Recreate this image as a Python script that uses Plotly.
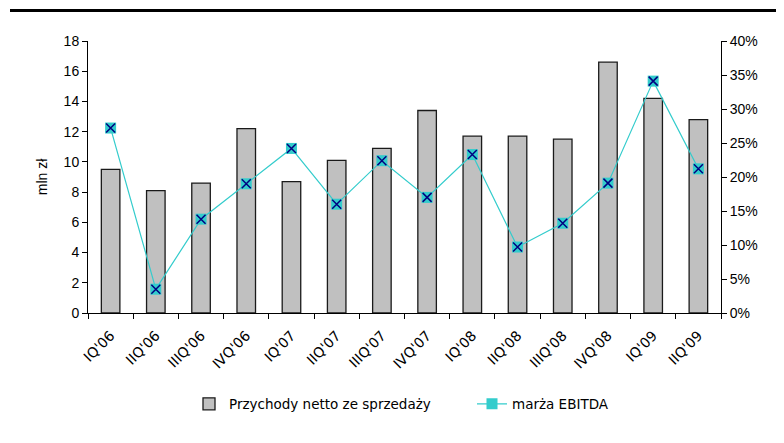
import plotly.graph_objects as go

categories = ["IQ'06", "IIQ'06", "IIIQ'06", "IVQ'06", "IQ'07", "IIQ'07", "IIIQ'07",
              "IVQ'07", "IQ'08", "IIQ'08", "IIIQ'08", "IVQ'08", "IQ'09", "IIQ'09"]
revenue = [9.5, 8.1, 8.6, 12.2, 8.7, 10.1, 10.9, 13.4, 11.7, 11.7, 11.5, 16.6, 14.2, 12.8]
ebitda_margin = [0.272, 0.035, 0.138, 0.190, 0.242, 0.160, 0.224, 0.170, 0.233,
                 0.097, 0.132, 0.191, 0.341, 0.212]
left_ticks = [0, 2, 4, 6, 8, 10, 12, 14, 16, 18]
right_ticks = [0, 0.05, 0.10, 0.15, 0.20, 0.25, 0.30, 0.35, 0.40]

# page body has an 8px default margin; the figure is sized to fit the window
OFF = 8
W, H = 784 - OFF, 443 - OFF
ML, MR, MT, MB = 88 - OFF, 63, 41 - OFF, 130
PW, PH = W - ML - MR, H - MT - MB

tick_font = dict(family="Liberation Sans, Arial, sans-serif", size=14, color="black")
cat_font = dict(family="DejaVu Sans, sans-serif", size=14, color="black")

fig = go.Figure()
fig.add_trace(go.Bar(
    x=categories, y=revenue, name="Przychody netto ze sprzedaży",
    marker=dict(color="#C0C0C0", line=dict(color="#1a1a1a", width=1.3)),
    yaxis="y",
))
fig.add_trace(go.Scatter(
    x=categories, y=ebitda_margin, name="marża EBITDA", yaxis="y2",
    mode="lines+markers", line=dict(color="#33CCCC", width=1.2),
    marker=dict(symbol="square", size=11, color="#33CCCC", line=dict(width=0)),
    legendgroup="m",
))
fig.add_trace(go.Scatter(
    x=categories, y=ebitda_margin, yaxis="y2", showlegend=False, hoverinfo="skip",
    mode="markers",
    marker=dict(symbol="x-thin", size=9, color="#000080", line=dict(color="#000080", width=1.5)),
    legendgroup="m",
))

legend_y = -((404 - OFF) - (MT + PH)) / PH

fig.update_layout(
    width=W, height=H,
    margin=dict(l=ML, r=MR, t=MT, b=MB),
    paper_bgcolor="white", plot_bgcolor="white",
    bargap=0.59,
    showlegend=True,
    legend=dict(orientation="h", x=(189 - 88) / PW, xanchor="left", y=legend_y,
                yanchor="middle", font=dict(family="DejaVu Sans, sans-serif", size=13.5, color="black"),
                itemwidth=30, entrywidth=238, entrywidthmode="pixels",
                tracegroupgap=0, bgcolor="rgba(0,0,0,0)"),
    xaxis=dict(
        type="category", tickson="boundaries", ticks="outside", ticklen=5,
        tickcolor="black", tickwidth=1, showline=True, linecolor="black", linewidth=1,
        tickangle=-45, tickfont=cat_font, showgrid=False, zeroline=False,
        ticklabelstandoff=8,
        range=[-0.5, len(categories) - 0.5],
    ),
    xaxis2=dict(
        overlaying="x", anchor="y", range=[-0.5, len(categories) - 0.5],
        tickmode="array", tickvals=[i - 0.5 for i in range(len(categories) + 1)],
        ticks="inside", ticklen=4, tickcolor="black", showticklabels=False,
        showline=False, showgrid=False, zeroline=False,
    ),
    yaxis=dict(
        range=[0, 18], tickmode="array", tickvals=left_ticks, ticks="outside", ticklen=5,
        tickcolor="black", showline=True, linecolor="black", linewidth=1,
        tickfont=tick_font, showgrid=False, zeroline=False,
        title=dict(text="mln zł", font=tick_font, standoff=12),
    ),
    yaxis2=dict(
        range=[0, 0.4], overlaying="y", side="right", anchor="x",
        tickmode="array", tickvals=right_ticks, tickformat=".0%", ticks="outside", ticklen=5,
        tickcolor="black", showline=True, linecolor="black", linewidth=1,
        tickfont=tick_font, showgrid=False, zeroline=False,
    ),
    yaxis3=dict(
        range=[0, 18], overlaying="y", side="left", anchor="x",
        tickmode="array", tickvals=left_ticks, ticks="inside", ticklen=4,
        tickcolor="black", showticklabels=False, showline=False, showgrid=False, zeroline=False,
    ),
    yaxis4=dict(
        range=[0, 0.4], overlaying="y", side="right", anchor="x",
        tickmode="array", tickvals=right_ticks, ticks="inside", ticklen=4,
        tickcolor="black", showticklabels=False, showline=False, showgrid=False, zeroline=False,
    ),
    shapes=[dict(type="line", xref="paper", yref="paper",
                 x0=(10 - 88) / PW, x1=(W + OFF - 88) / PW,
                 y0=(313 - 10.5) / PH, y1=(313 - 10.5) / PH,
                 line=dict(color="black", width=3))],
)

fig.write_html("out.html")
